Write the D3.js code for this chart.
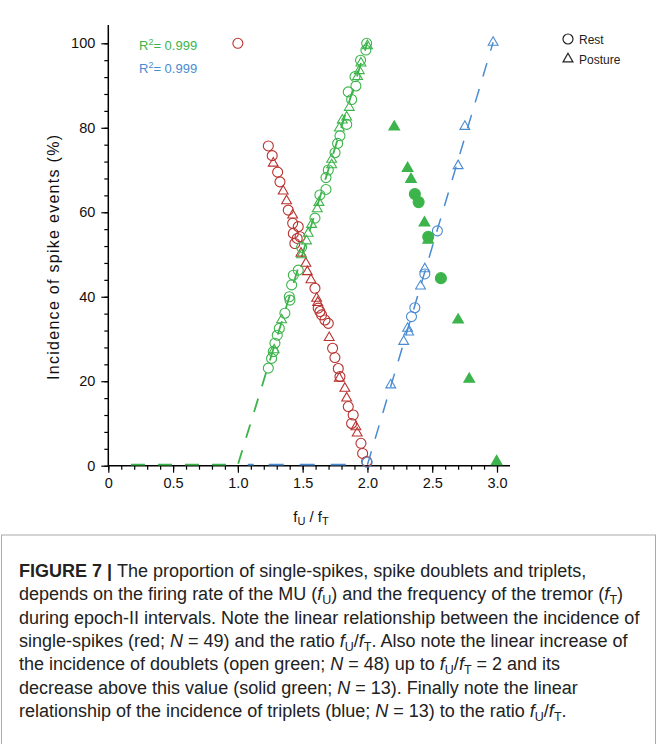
<!DOCTYPE html>
<html>
<head>
<meta charset="utf-8">
<script src="https://cdn.jsdelivr.net/npm/d3@7"></script>
<style>
  body { margin: 0; background: #fff; }
  svg { display: block; font-family: "Liberation Sans", Arial, sans-serif; }
</style>
</head>
<body>
<div id="chart"></div>
<script>
// ---- data (x = fU/fT, y = incidence %) ----
const redRest = [[1.0,100],[1.235,75.7],[1.265,73.4],[1.307,69.5],[1.325,67.2],[1.389,60.5],[1.423,57.4],[1.466,56.6],
  [1.428,55.0],[1.48,54.2],[1.458,53.8],[1.44,52.6],[1.595,42.0],[1.62,37.3],[1.633,36.5],[1.646,35.7],[1.672,34.5],
  [1.698,33.7],[1.731,27.8],[1.749,25.6],[1.775,23.0],[1.788,21.1],[1.852,14.0],[1.89,12.0],[1.878,10.0],[1.95,5.3],
  [1.963,2.9],[1.994,1.0]]
const redPosture = [[1.273,71.6],[1.35,65.0],[1.376,62.7],[1.423,59.3],[1.487,50.3],[1.525,47.9],[1.536,45.9],[1.564,44.0],
  [1.608,39.6],[1.616,38.6],[1.705,30.3],[1.783,20.7],[1.826,18.3],[1.84,16.0],[1.911,9.2],[1.921,7.7]]
const greenRest = [[1.994,100],[1.988,98.4],[1.947,96.0],[1.904,92.1],[1.911,89.9],[1.852,88.5],[1.878,86.7],[1.84,80.8],
  [1.788,78.1],[1.77,76.3],[1.75,74.1],[1.698,70.0],[1.68,68.2],[1.68,65.4],[1.633,64.1],[1.595,58.6],[1.492,51.7],
  [1.466,46.3],[1.428,45.1],[1.415,42.8],[1.397,40.0],[1.402,39.2],[1.363,36.1],[1.32,32.5],[1.304,30.9],[1.286,29.0],
  [1.273,27.0],[1.26,25.4],[1.235,23.1]]
const greenPosture = [[2.0,99.4],[1.95,95.3],[1.937,93.5],[1.924,92.1],[1.86,84.8],[1.84,82.5],[1.806,81.8],[1.783,79.9],
  [1.724,72.5],[1.724,71.2],[1.626,62.3],[1.613,60.8],[1.569,57.1],[1.543,55.0],[1.53,53.2],[1.492,49.9],[1.338,34.5],
  [1.28,27.4]]
const greenSolidRest = [[2.366,64.3],[2.395,62.4],[2.469,54.2],[2.567,44.4]]
const greenSolidPosture = [[2.207,80.2],[2.31,70.4],[2.336,67.8],[2.44,57.5],[2.469,53.4],[2.70,34.5],[2.786,20.5],[2.997,1.0]]
const blueRest = [[2.54,55.6],[2.443,45.4],[2.366,37.4],[2.34,35.3],[1.998,0.8]]
const bluePosture = [[2.97,100.2],[2.752,80.3],[2.70,71.0],[2.443,46.6],[2.41,42.5],[2.31,32.5],[2.318,31.6],[2.28,29.4],[2.18,19.1]]
// dashed fit lines
const greenFit = [[0.175,0],[1.0,0],[2.0,100]]
const blueFitBase = [[1.076,0],[1.85,0]]
const blueFit = [[2.0,0],[2.97,100]]

const xTicks = [0, 0.5, 1.0, 1.5, 2.0, 2.5, 3.0]
const xTickLabels = ["0", "0.5", "1.0", "1.5", "2.0", "2.5", "3.0"]
const yTicks = [0, 20, 40, 60, 80, 100]
const r2Labels = [{ text: "0.999", color: "#3cb44b" }, { text: "0.999", color: "#4a8bd2" }]
const legendItems = [{ label: "Rest", shape: "circle" }, { label: "Posture", shape: "triangle" }]

const captionLines = [
  [["b","FIGURE 7 | "],["n","The proportion of single-spikes, spike doublets and triplets,"]],
  [["n","depends on the firing rate of the MU ("],["i","f"],["s","U"],["n",") and the frequency of the tremor ("],["i","f"],["s","T"],["n",")"]],
  [["n","during epoch-II intervals. Note the linear relationship between the incidence of"]],
  [["n","single-spikes (red; "],["i","N"],["n"," = 49) and the ratio "],["i","f"],["s","U"],["n","/"],["i","f"],["s","T"],["n",". Also note the linear increase of"]],
  [["n","the incidence of doublets (open green; "],["i","N"],["n"," = 48) up to "],["i","f"],["s","U"],["n","/"],["i","f"],["s","T"],["n"," = 2 and its"]],
  [["n","decrease above this value (solid green; "],["i","N"],["n"," = 13). Finally note the linear"]],
  [["n","relationship of the incidence of triplets (blue; "],["i","N"],["n"," = 13) to the ratio "],["i","f"],["s","U"],["n","/"],["i","f"],["s","T"],["n","."]]
]

const RED = "#b8322f", GREEN = "#3cb44b", BLUE = "#4a8bd2"

const width = 657
const height = 744
const svg = d3.select("#chart").append("svg").attr("width", width).attr("height", height)

const x = d3.scaleLinear().domain([0, 3]).range([108.3, 497])
const y = d3.scaleLinear().domain([0, 100]).range([465.7, 43.3])

// axes
const xAxisG = svg.append("g").attr("transform", `translate(0,${y(0)})`)
xAxisG.call(d3.axisBottom(x).tickValues(d3.range(0, 31).map(d => d / 10)).tickSize(4).tickFormat(""))
xAxisG.call(g => g.select(".domain").remove())
const xMajor = svg.append("g").attr("transform", `translate(0,${y(0)})`)
  .call(d3.axisBottom(x).tickValues(xTicks).tickSize(7).tickPadding(5).tickFormat((d, i) => xTickLabels[i]))
xMajor.select(".domain").remove()
xMajor.selectAll("text").attr("font-size", 14.5).attr("font-family", "Liberation Sans, Arial, sans-serif").attr("fill", "#111")
svg.append("line").attr("x1", x(0)).attr("x2", 510).attr("y1", y(0)).attr("y2", y(0)).attr("stroke", "#000").attr("stroke-width", 1.5)

const yAxisG = svg.append("g").attr("transform", `translate(${x(0)},0)`)
yAxisG.call(d3.axisLeft(y).tickValues(d3.range(0, 101, 4)).tickSize(4).tickFormat(""))
yAxisG.call(g => g.select(".domain").remove())
const yMajor = svg.append("g").attr("transform", `translate(${x(0)},0)`)
  .call(d3.axisLeft(y).tickValues(yTicks).tickSize(7).tickPadding(6))
yMajor.select(".domain").remove()
yMajor.selectAll("text").attr("font-size", 14.5).attr("font-family", "Liberation Sans, Arial, sans-serif").attr("fill", "#111")
svg.append("line").attr("x1", x(0)).attr("x2", x(0)).attr("y1", y(0)).attr("y2", 25).attr("stroke", "#000").attr("stroke-width", 1.5)
svg.selectAll(".tick line").attr("stroke", "#000").attr("stroke-width", 1.2)

// axis titles
svg.append("text").attr("transform", `translate(59,${(y(0) + y(100)) / 2 + 3}) rotate(-90)`)
  .attr("text-anchor", "middle").attr("font-size", 16).attr("fill", "#111")
  .attr("textLength", 245).attr("lengthAdjust", "spacing").text("Incidence of spike events (%)")
const xt = svg.append("text").attr("x", 311).attr("y", 522).attr("text-anchor", "middle").attr("font-size", 15).attr("fill", "#111")
xt.append("tspan").text("f")
xt.append("tspan").attr("font-size", 11).attr("dy", 3).text("U")
xt.append("tspan").attr("dy", -3).text(" / f")
xt.append("tspan").attr("font-size", 11).attr("dy", 3).text("T")

// dashed fit lines (drawn over the axis like the original)
const line = d3.line().x(d => x(d[0])).y(d => y(d[1]) - 1)
svg.append("path").attr("d", line(greenFit)).attr("fill", "none").attr("stroke", GREEN)
  .attr("stroke-width", 1.8).attr("stroke-dasharray", "14,13")
svg.append("path").attr("d", line(blueFitBase)).attr("fill", "none").attr("stroke", BLUE)
  .attr("stroke-width", 1.8).attr("stroke-dasharray", "6,15,15,16,15,16,15,16")
svg.append("path").attr("d", line(blueFit)).attr("fill", "none").attr("stroke", BLUE)
  .attr("stroke-width", 1.5).attr("stroke-dasharray", "14,13")

// markers
const tri = d3.symbol().type(d3.symbolTriangle)
function circles(data, color, filled, r) {
  svg.append("g").selectAll("circle").data(data).join("circle")
    .attr("cx", d => x(d[0])).attr("cy", d => y(d[1])).attr("r", r)
    .attr("fill", filled ? color : "none").attr("stroke", color).attr("stroke-width", 1.1)
}
function triangles(data, color, filled, size) {
  svg.append("g").selectAll("path").data(data).join("path")
    .attr("d", tri.size(size)()).attr("transform", d => `translate(${x(d[0])},${y(d[1])})`)
    .attr("fill", filled ? color : "none").attr("stroke", color).attr("stroke-width", 1.1)
}
circles(redRest, RED, false, 5)
triangles(redPosture, RED, false, 42)
circles(greenRest, GREEN, false, 5)
triangles(greenPosture, GREEN, false, 42)
circles(blueRest, BLUE, false, 5)
triangles(bluePosture, BLUE, false, 42)
circles(greenSolidRest, GREEN, true, 5.5)
triangles(greenSolidPosture, GREEN, true, 50)

// R^2 annotations
r2Labels.forEach((d, i) => {
  const t = svg.append("text").attr("x", 139).attr("y", 50 + i * 23).attr("font-size", 13).attr("fill", d.color)
  t.append("tspan").text("R")
  t.append("tspan").attr("font-size", 9).attr("dy", -5).text("2")
  t.append("tspan").attr("dy", 5).text("= " + d.text)
})

// legend
legendItems.forEach((d, i) => {
  const g = svg.append("g").attr("transform", `translate(568,${39 + i * 20})`)
  if (d.shape === "circle") g.append("circle").attr("r", 5).attr("fill", "none").attr("stroke", "#222").attr("stroke-width", 1.2)
  else g.append("path").attr("d", tri.size(42)()).attr("fill", "none").attr("stroke", "#222").attr("stroke-width", 1.2)
  g.append("text").attr("x", 11).attr("y", 4.5).attr("font-size", 12).attr("fill", "#222").text(d.label)
})

// caption box
svg.append("rect").attr("x", 1.5).attr("y", 535).attr("width", 654).attr("height", 220)
  .attr("fill", "none").attr("stroke", "#aaa").attr("stroke-width", 1)
const cap = svg.append("g").attr("font-size", 18).attr("fill", "#222")
captionLines.forEach((parts, i) => {
  const t = cap.append("text").attr("x", 19).attr("y", 577 + i * 23.3)
  let down = false
  parts.forEach(([k, s]) => {
    const sp = t.append("tspan").text(s)
    if (k === "b") sp.attr("font-weight", "bold")
    if (k === "i") sp.attr("font-style", "italic")
    if (k === "s") { sp.attr("font-size", 12.5).attr("dy", 4); down = true }
    else if (down) { sp.attr("dy", -4); down = false }
  })
})
</script>
</body>
</html>
